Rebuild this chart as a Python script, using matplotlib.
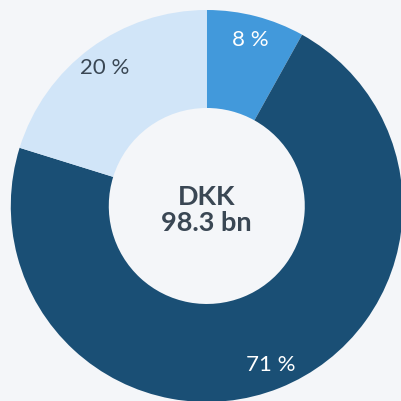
import matplotlib.pyplot as plt

# Share of total (in %)
labels = ['8 %', '71 %', '20 %']
shares = [8, 71, 20]
colors = ['#4299db', '#1a4f75', '#d1e5f8']
label_colors = ['white', 'white', '#3a4754']
center_text = 'DKK\n98.3 bn'

bg = '#f4f6f9'

fig = plt.figure(figsize=(4.02, 4.01), dpi=100, facecolor=bg)
ax = fig.add_axes([0, 0, 1, 1])
ax.set_facecolor(bg)

wedges, texts, autotexts = ax.pie(
    shares, colors=colors, startangle=90, counterclock=False,
    radius=1.0, wedgeprops=dict(width=0.5, edgecolor='none'),
    autopct='%1.0f', pctdistance=0.875,
)
for t, lab, c in zip(autotexts, labels, label_colors):
    t.set_text(lab)
    t.set_color(c)
    t.set_fontsize(16)
    t.set_family('Lato')
    t.set_fontweight('normal')

ax.text(0, -0.02, center_text, ha='center', va='center', fontsize=19.5,
        fontweight='bold', family='Lato', color='#3a4754', linespacing=1.1)

# map radius 1 to ~196 px, center at (207, 206) from top-left
ax.set_xlim(-1.055, 0.996)
ax.set_ylim(-0.995, 1.051)
ax.set_aspect('auto')
ax.axis('off')

fig.savefig('out.png', dpi=100, facecolor=bg)
